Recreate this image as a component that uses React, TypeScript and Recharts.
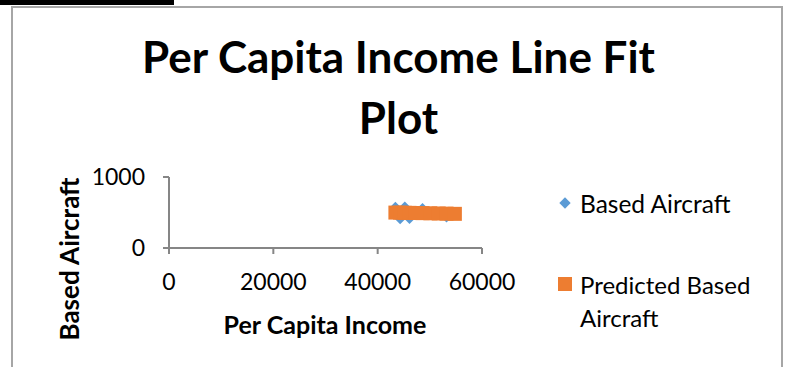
import { ScatterChart, Scatter, XAxis, YAxis } from "recharts";

const incomeValues = [43400, 44300, 45200, 46100, 47300, 48600, 50100, 51700, 53200, 54800];
const basedAircraft = [580, 405, 585, 410, 490, 565, 470, 510, 430, 460];
const predictedAircraft = [499, 498, 496, 495, 493, 491, 489, 486, 484, 481];
const xTicks = [0, 20000, 40000, 60000];
const yTicks = [0, 1000];

const actualData = incomeValues.map((x, i) => ({ x, y: basedAircraft[i] }));
const predictedData = incomeValues.map((x, i) => ({ x, y: predictedAircraft[i] }));

const FONT = "Lato, 'Open Sans', sans-serif";
const BLUE = "#5b9bd5";
const ORANGE = "#ed7d31";
const AXIS = "#868686";

const Diamond = (p: any) => (
  <path
    d={`M${p.cx},${p.cy - 5}L${p.cx + 5},${p.cy}L${p.cx},${p.cy + 5}L${p.cx - 5},${p.cy}Z`}
    fill={BLUE}
  />
);

const Square = (p: any) => <rect x={p.cx - 7} y={p.cy - 7} width={14} height={14} fill={ORANGE} />;

export default function App() {
  return (
    <div style={{ position: "absolute", left: 0, top: 0, width: 787, height: 367, background: "#fff", fontFamily: FONT, overflow: "hidden" }}>
      <div style={{ position: "absolute", left: 0, top: 0, width: 174, height: 5, background: "#000" }} />
      <div style={{ position: "absolute", left: 11, top: 6, width: 768, height: 400, border: "2px solid #a6a6a6" }} />
      <div style={{ position: "absolute", left: 0, width: 797, top: 26, textAlign: "center", fontSize: 44, fontWeight: 700, lineHeight: "61px", color: "#000" }}>
        Per Capita Income Line Fit
        <br />
        Plot
      </div>
      <div style={{ position: "absolute", left: 69, top: 259, transform: "translate(-50%, -50%) rotate(-90deg)", whiteSpace: "nowrap", fontSize: 26, fontWeight: 700 }}>
        Based Aircraft
      </div>
      <div style={{ position: "absolute", left: 325, top: 324, transform: "translate(-50%, -50%)", whiteSpace: "nowrap", fontSize: 25, fontWeight: 700 }}>
        Per Capita Income
      </div>
      <div style={{ position: "absolute", left: 561, top: 199, width: 8, height: 8, background: BLUE, transform: "rotate(45deg)" }} />
      <div style={{ position: "absolute", left: 580, top: 203, transform: "translateY(-50%)", fontSize: 24.5, whiteSpace: "nowrap" }}>Based Aircraft</div>
      <div style={{ position: "absolute", left: 558, top: 277, width: 14, height: 14, background: ORANGE }} />
      <div style={{ position: "absolute", left: 580, top: 268, fontSize: 24, lineHeight: "33px" }}>
        Predicted Based
        <br />
        Aircraft
      </div>
      <div style={{ position: "absolute", left: 0, top: 0 }}>
        <ScatterChart width={787} height={367} margin={{ top: 177, right: 305, bottom: 79, left: 109 }}>
          <XAxis
            type="number"
            dataKey="x"
            domain={[0, 60000]}
            ticks={xTicks}
            stroke={AXIS}
            strokeWidth={2}
            tick={{ fill: "#000", fontSize: 23, fontFamily: FONT }}
            tickMargin={20}
            height={40}
            interval={0}
          />
          <YAxis
            type="number"
            dataKey="y"
            domain={[0, 1000]}
            ticks={yTicks}
            stroke={AXIS}
            strokeWidth={2}
            tick={{ fill: "#000", fontSize: 23, fontFamily: FONT }}
            tickMargin={18}
            width={60}
            interval={0}
          />
          <Scatter data={actualData} fill={BLUE} shape={Diamond} isAnimationActive={false} />
          <Scatter data={predictedData} fill={ORANGE} shape={Square} isAnimationActive={false} />
        </ScatterChart>
      </div>
    </div>
  );
}
